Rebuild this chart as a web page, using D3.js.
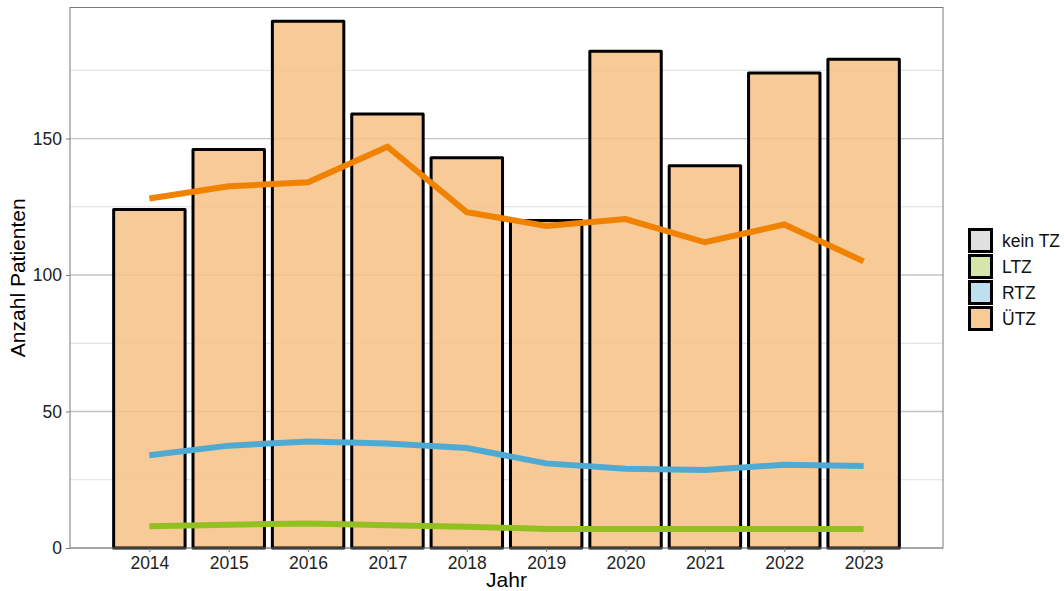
<!DOCTYPE html>
<html>
<head>
<meta charset="utf-8">
<script src="https://cdn.jsdelivr.net/npm/d3@7"></script>
<style>
  body { margin: 0; background: #fff; }
  text { font-family: "Liberation Sans", Arial, sans-serif; }
</style>
</head>
<body>
<svg></svg>
<script>
var years = ["2014", "2015", "2016", "2017", "2018", "2019", "2020", "2021", "2022", "2023"];
var patients = [124, 146, 193, 159, 143, 120, 182, 140, 174, 179];
var uetzLine = [128, 132.5, 134, 147, 123, 118, 120.5, 112, 118.5, 105];
var rtzLine = [34, 37.5, 39, 38.3, 36.6, 31, 29, 28.6, 30.5, 30];
var ltzLine = [8, 8.5, 9, 8.3, 7.8, 7, 7, 7, 7, 7];
var legendLabels = ["kein TZ", "LTZ", "RTZ", "ÜTZ"];
var legendFills = ["#e0e0e0", "#d4e6a8", "#bde0ef", "#f7ca96"];
var yTicks = [0, 50, 100, 150];
var yMinor = [25, 75, 125, 175];

var width = 1064,
    height = 591;
var svg = d3.select("svg")
    .attr("width", width)
    .attr("height", height);

var pLeft = 70, pRight = 943, pTop = 7.5, pBottom = 548;

var x = d3.scalePoint()
    .domain(years)
    .range([pLeft, pRight])
    .padding(1);
var bw = x.step() * 0.9;

var y = d3.scaleLinear()
    .domain([0, 198])
    .range([pBottom, pTop]);

// grid
svg.append("g").selectAll("line")
    .data(yMinor)
    .enter().append("line")
    .attr("x1", pLeft).attr("x2", pRight)
    .attr("y1", d => y(d)).attr("y2", d => y(d))
    .attr("stroke", "#dedede").attr("stroke-width", 1);
svg.append("g").selectAll("line")
    .data(yTicks)
    .enter().append("line")
    .attr("x1", pLeft).attr("x2", pRight)
    .attr("y1", d => y(d)).attr("y2", d => y(d))
    .attr("stroke", "#c4c4c4").attr("stroke-width", 1.3);

// bars
svg.append("g").selectAll("rect")
    .data(years)
    .enter().append("rect")
    .attr("x", d => x(d) - bw / 2)
    .attr("width", bw)
    .attr("y", (d, i) => y(patients[i]))
    .attr("height", (d, i) => y(0) - y(patients[i]))
    .attr("fill", "rgb(246,193,133)")
    .attr("fill-opacity", 0.85)
    .attr("stroke", "#000")
    .attr("stroke-width", 3)
    .attr("stroke-linejoin", "round");

// lines
var line = d3.line()
    .x((d, i) => x(years[i]))
    .y(d => y(d));
[[ltzLine, "#92c020"], [rtzLine, "#4eaad3"], [uetzLine, "#f08200"]].forEach(function (s) {
    svg.append("path")
        .attr("d", line(s[0]))
        .attr("fill", "none")
        .attr("stroke", s[1])
        .attr("stroke-width", 6);
});

// panel border
svg.append("rect")
    .attr("x", pLeft).attr("y", pTop)
    .attr("width", pRight - pLeft).attr("height", pBottom - pTop)
    .attr("fill", "none").attr("stroke", "#7a7a7a").attr("stroke-width", 1);

// axes
var yAxis = svg.append("g")
    .attr("transform", "translate(" + pLeft + ",0)")
    .call(d3.axisLeft(y).tickValues(yTicks).tickSize(4).tickPadding(4));
var xAxis = svg.append("g")
    .attr("transform", "translate(0," + pBottom + ")")
    .call(d3.axisBottom(x).tickSize(4).tickPadding(5));
[yAxis, xAxis].forEach(function (g) {
    g.select(".domain").remove();
    g.selectAll(".tick line").attr("stroke", "#7a7a7a");
    g.selectAll(".tick text")
        .attr("fill", "#222")
        .style("font-size", "17.5px")
        .style("font-family", "Liberation Sans, Arial, sans-serif");
});

svg.append("text")
    .attr("x", (pLeft + pRight) / 2).attr("y", 587)
    .attr("text-anchor", "middle")
    .style("font-size", "21px")
    .text("Jahr");
svg.append("text")
    .attr("transform", "translate(25," + (pTop + pBottom) / 2 + ") rotate(-90)")
    .attr("text-anchor", "middle")
    .style("font-size", "21px")
    .text("Anzahl Patienten");

// legend
var lg = svg.append("g").attr("transform", "translate(968,228)");
var items = lg.selectAll("g")
    .data(legendLabels)
    .enter().append("g")
    .attr("transform", (d, i) => "translate(0," + i * 26 + ")");
items.append("rect")
    .attr("x", 1.5).attr("y", 1.5)
    .attr("width", 22).attr("height", 22)
    .attr("fill", (d, i) => legendFills[i])
    .attr("stroke", "#000").attr("stroke-width", 3);
items.append("text")
    .attr("x", 34).attr("y", 18.5)
    .style("font-size", "17.5px")
    .attr("fill", "#111")
    .text(d => d);
</script>
</body>
</html>
